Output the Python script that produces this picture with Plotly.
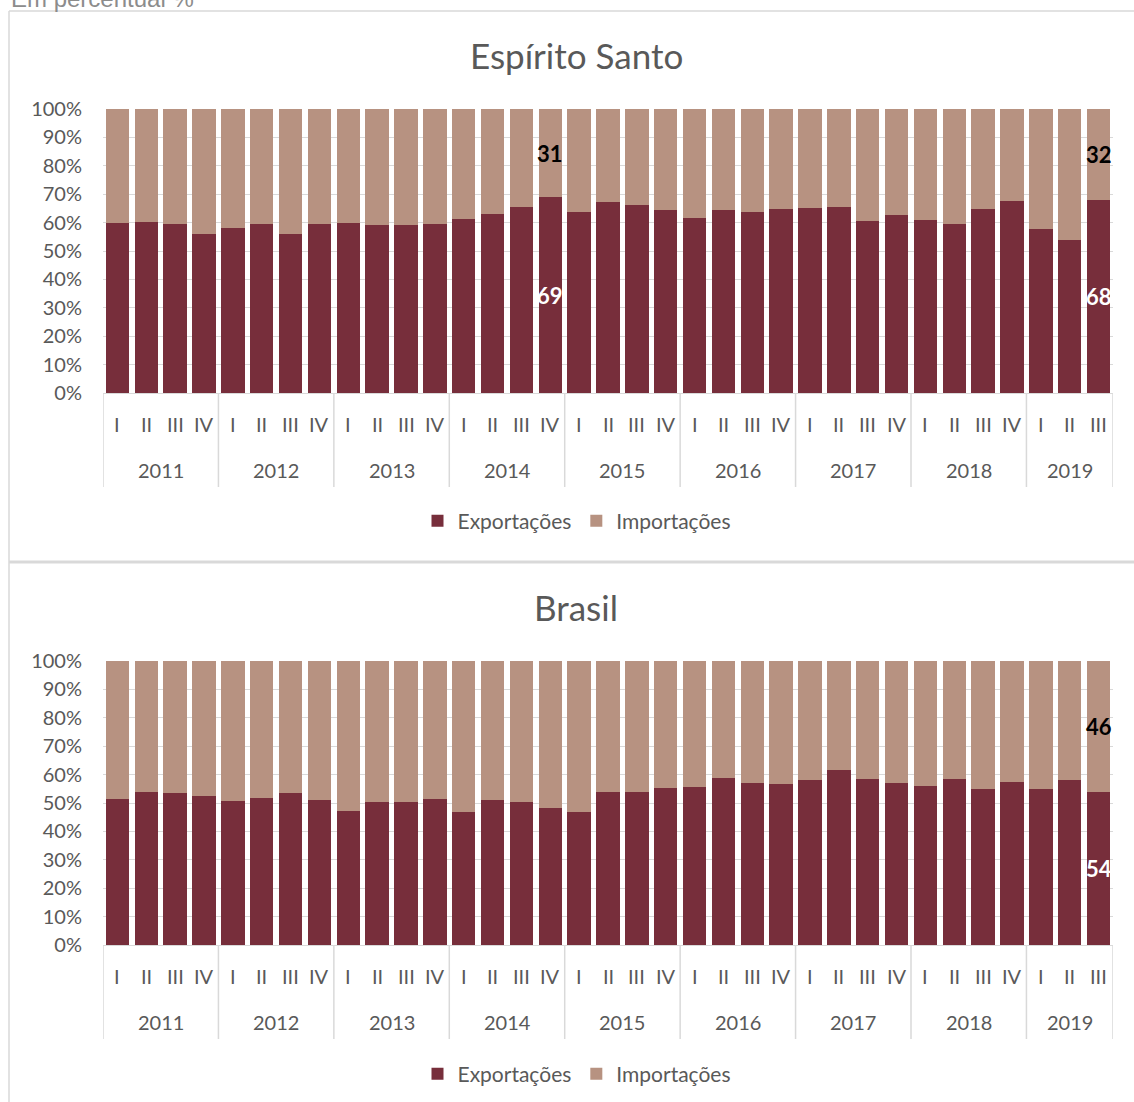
import plotly.graph_objects as go

W, H = 1134, 1102

# Quarters by year (2019 only through the third quarter)
years = ["2011", "2012", "2013", "2014", "2015", "2016", "2017", "2018", "2019"]
quarter_names = ["I", "II", "III", "IV"]
quarters_in_year = [4, 4, 4, 4, 4, 4, 4, 4, 3]

# Espírito Santo: share of exports and imports in foreign trade (%)
es_exports = [60.0, 60.3, 59.5, 56.0,
              58.2, 59.4, 56.1, 59.6,
              60.0, 59.3, 59.3, 59.5,
              61.2, 63.1, 65.6, 69.0,
              63.8, 67.4, 66.3, 64.4,
              61.7, 64.5, 63.8, 64.8,
              65.1, 65.6, 60.7, 62.6,
              61.0, 59.6, 64.9, 67.7,
              57.9, 53.8, 68.0]
es_imports = [40.0, 39.7, 40.5, 44.0,
              41.8, 40.6, 43.9, 40.4,
              40.0, 40.7, 40.7, 40.5,
              38.8, 36.9, 34.4, 31.0,
              36.2, 32.6, 33.7, 35.6,
              38.3, 35.5, 36.2, 35.2,
              34.9, 34.4, 39.3, 37.4,
              39.0, 40.4, 35.1, 32.3,
              42.1, 46.2, 32.0]

# Brasil
br_exports = [51.4, 53.8, 53.5, 52.5,
              50.8, 51.8, 53.4, 51.2,
              47.3, 50.5, 50.2, 51.4,
              46.9, 51.1, 50.5, 48.2,
              46.7, 53.9, 54.0, 55.4,
              55.6, 58.9, 57.2, 56.8,
              58.2, 61.5, 58.6, 57.2,
              56.1, 58.6, 54.8, 57.4,
              54.8, 58.0, 54.0]
br_imports = [48.6, 46.2, 46.5, 47.5,
              49.2, 48.2, 46.6, 48.8,
              52.7, 49.5, 49.8, 48.6,
              53.1, 48.9, 49.5, 51.8,
              53.3, 46.1, 46.0, 44.6,
              44.4, 41.1, 42.8, 43.2,
              41.8, 38.5, 41.4, 42.8,
              43.9, 41.4, 45.2, 42.6,
              45.2, 42.0, 46.0]

# Periods whose values are written on the bars
es_labelled = ["2014 IV", "2019 III"]
br_labelled = ["2019 III"]

EXP_COLOR = "#772e3b"
IMP_COLOR = "#b79281"
GRID = "#d9d9d9"
TXT = "#595959"
FONT = "Lato, 'Open Sans', sans-serif"


def py(p):
    """Pixel row -> paper y."""
    return 1 - p / H


def px(p):
    """Pixel column -> paper x."""
    return p / W


# Category index for every quarter
periods = []
groups = []
start = 0
for yr, n in zip(years, quarters_in_year):
    idx = []
    for q in quarter_names[:n]:
        periods.append((yr, q))
        idx.append(start + len(idx))
    groups.append((yr, idx))
    start += n
xpos = list(range(len(periods)))
period_keys = [f"{y} {q}" for y, q in periods]

panels = [
    dict(title="Espírito Santo", exp=es_exports, imp=es_imports, labelled=es_labelled,
         top=109, bottom=393, xa="x", ya="y", legend="legend"),
    dict(title="Brasil", exp=br_exports, imp=br_imports, labelled=br_labelled,
         top=661, bottom=945, xa="x2", ya="y2", legend="legend2"),
]

fig = go.Figure()
annotations = []
shapes = []

for k, p in enumerate(panels):
    fig.add_trace(go.Bar(
        x=xpos, y=p["exp"], name="Exportações", marker=dict(color=EXP_COLOR, line_width=0),
        xaxis=p["xa"], yaxis=p["ya"], legend=p["legend"], hoverinfo="skip"))
    fig.add_trace(go.Bar(
        x=xpos, y=p["imp"], name="Importações", marker=dict(color=IMP_COLOR, line_width=0),
        xaxis=p["xa"], yaxis=p["ya"], legend=p["legend"], hoverinfo="skip"))

    # chart title
    annotations.append(dict(text=p["title"], xref="paper", yref="paper",
                            x=px(576), y=py(p["top"] - 54), xanchor="center",
                            yanchor="middle", showarrow=False,
                            font=dict(family=FONT, size=35, color=TXT)))

    # quarter and year labels of the category axis
    for i, (yr, q) in enumerate(periods):
        annotations.append(dict(text=q, xref=p["xa"], yref="paper", x=i,
                                y=py(p["bottom"] + 31), xanchor="center",
                                yanchor="middle", showarrow=False,
                                font=dict(family=FONT, size=20, color=TXT)))
    for yr, idx in groups:
        annotations.append(dict(text=yr, xref=p["xa"], yref="paper",
                                x=sum(idx) / len(idx), y=py(p["bottom"] + 77),
                                xanchor="center", yanchor="middle",
                                showarrow=False, font=dict(family=FONT, size=20, color=TXT)))
        shapes.append(dict(type="line", xref=p["xa"], yref="paper",
                           x0=idx[0] - 0.5, x1=idx[0] - 0.5,
                           y0=py(p["bottom"]), y1=py(p["bottom"] + 94),
                           line=dict(color=GRID, width=1.5)))
    last = groups[-1][1][-1] + 0.5
    shapes.append(dict(type="line", xref=p["xa"], yref="paper", x0=last, x1=last,
                       y0=py(p["bottom"]), y1=py(p["bottom"] + 94),
                       line=dict(color=GRID, width=1.5)))

    # value labels
    for key in p["labelled"]:
        i = period_keys.index(key)
        e, m = p["exp"][i], p["imp"][i]
        annotations.append(dict(text=f"<b>{e:.0f}</b>", xref=p["xa"], yref=p["ya"],
                                x=i, y=e / 2, xanchor="center", yanchor="middle",
                                showarrow=False,
                                font=dict(family=FONT, size=22, color="white")))
        annotations.append(dict(text=f"<b>{m:.0f}</b>", xref=p["xa"], yref=p["ya"],
                                x=i, y=e + m / 2, xanchor="center", yanchor="middle",
                                showarrow=False,
                                font=dict(family=FONT, size=22, color="black")))

# unit note above the frame
annotations.append(dict(text="Em percentual %", xref="paper", yref="paper",
                        x=px(9), y=py(14), xanchor="left", yanchor="bottom",
                        showarrow=False,
                        font=dict(family="'Liberation Sans', Arial, sans-serif",
                                  size=24, color="#8c8c8c")))

# chart frames
shapes += [
    dict(type="line", xref="paper", yref="paper", x0=px(9), x1=1, y0=py(11), y1=py(11),
         line=dict(color=GRID, width=1.5)),
    dict(type="line", xref="paper", yref="paper", x0=px(9), x1=px(9), y0=py(11), y1=0,
         line=dict(color=GRID, width=1.5)),
    dict(type="line", xref="paper", yref="paper", x0=px(9), x1=1, y0=py(562), y1=py(562),
         line=dict(color=GRID, width=3)),
]

x_dom = [px(103), px(1113)]
yaxis_common = dict(range=[0, 100], dtick=10, ticksuffix="%", showgrid=True,
                    gridcolor=GRID, gridwidth=1.3, zeroline=True, zerolinecolor=GRID,
                    zerolinewidth=1.3, showline=False, ticks="", ticklabelstandoff=20,
                    automargin=False,
                    tickfont=dict(family=FONT, size=20, color=TXT), fixedrange=True)
xaxis_common = dict(range=[-0.5, len(periods) - 0.5], showgrid=False, zeroline=False,
                    showline=False, showticklabels=False, ticks="", automargin=False,
                    fixedrange=True)

legend_common = dict(orientation="h", xanchor="center", yanchor="middle",
                     traceorder="normal",
                     x=px(577), font=dict(family=FONT, size=21, color=TXT),
                     bgcolor="rgba(0,0,0,0)", itemclick=False, itemdoubleclick=False)

fig.update_layout(
    width=W, height=H, margin=dict(l=0, r=0, t=0, b=0, autoexpand=False),
    paper_bgcolor="white", plot_bgcolor="white",
    barmode="stack", bargap=0.19,
    xaxis=dict(domain=x_dom, anchor="y", **xaxis_common),
    yaxis=dict(domain=[py(393), py(109)], anchor="x", **yaxis_common),
    xaxis2=dict(domain=x_dom, anchor="y2", **xaxis_common),
    yaxis2=dict(domain=[py(945), py(661)], anchor="x2", **yaxis_common),
    legend=dict(y=py(521), **legend_common),
    legend2=dict(y=py(1074), **legend_common),
    annotations=annotations,
    shapes=shapes,
    showlegend=True,
)

fig.write_html("out.html")
